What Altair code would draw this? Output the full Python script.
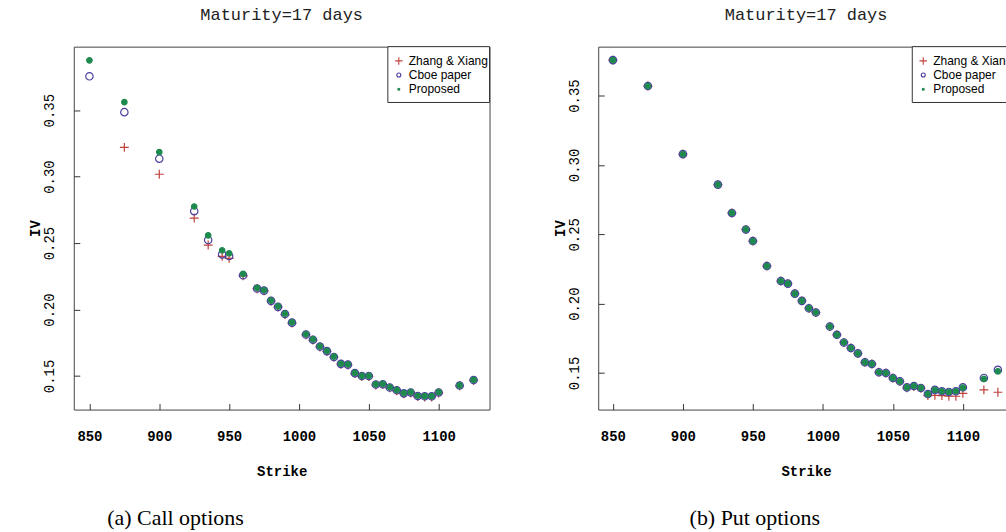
import altair as alt
import pandas as pd

MONO = "Liberation Mono"
SANS = "Liberation Sans"
SERIF = "Liberation Serif"

SERIES = ["Zhang & Xiang", "Cboe paper", "Proposed"]
STROKES = ["#c0413a", "#4a3f9f", "#1f8a4f"]
FILLS = ["transparent", "transparent", "#1f8a4f"]
PLUS = "M-1,0L1,0M0,-1L0,1"
SHAPES = [PLUS, "circle", "circle"]
SIZES = [80, 30, 12]
LEGEND_SIZES = [56, 16, 4]

strikes = [850, 875, 900, 925, 935, 945, 950, 960, 970, 975, 980, 985, 990, 995,
           1005, 1010, 1015, 1020, 1025, 1030, 1035, 1040, 1045, 1050, 1055, 1060,
           1065, 1070, 1075, 1080, 1085, 1090, 1095, 1100, 1115, 1125]

# (a) Call options
call_zhang = [None, 0.322, 0.3018, 0.2688, 0.2485, 0.2400, 0.2385, 0.2253, 0.2155, 0.2140,
              0.2062, 0.2018, 0.1962, 0.1898, 0.1810, 0.1770, 0.1718, 0.1684, 0.1640, 0.1588,
              0.1582, 0.1518, 0.1496, 0.1496, 0.1432, 0.1435, 0.1410, 0.1388, 0.1366, 0.1372,
              0.1345, 0.1342, 0.1342, 0.1372, 0.1426, 0.1466]
call_cboe = [0.3755, 0.3485, 0.3135, 0.2740, 0.2523, 0.2415, 0.2403, 0.2258, 0.2158, 0.2142,
             0.2065, 0.2020, 0.1966, 0.1901, 0.1812, 0.1773, 0.1721, 0.1687, 0.1643, 0.1591,
             0.1585, 0.1521, 0.1500, 0.1500, 0.1436, 0.1438, 0.1413, 0.1392, 0.1369, 0.1376,
             0.1349, 0.1347, 0.1347, 0.1376, 0.1428, 0.1469]
call_proposed = [0.3875, 0.3560, 0.3185, 0.2775, 0.2558, 0.2445, 0.2423, 0.2268, 0.2162, 0.2145,
                 0.2067, 0.2023, 0.1968, 0.1903, 0.1814, 0.1775, 0.1723, 0.1688, 0.1645, 0.1592,
                 0.1587, 0.1523, 0.1501, 0.1501, 0.1437, 0.1440, 0.1415, 0.1394, 0.1371, 0.1378,
                 0.1351, 0.1348, 0.1348, 0.1378, 0.1429, 0.1470]

# (b) Put options
put_zhang = [0.3756, 0.3569, 0.3078, 0.2858, 0.2654, 0.2535, 0.2451, 0.2271, 0.2163, 0.2144,
             0.2072, 0.2020, 0.1967, 0.1936, 0.1835, 0.1775, 0.1720, 0.1680, 0.1641, 0.1577,
             0.1565, 0.1505, 0.1500, 0.1464, 0.1438, 0.1393, 0.1402, 0.1389, 0.1337, 0.1339,
             0.1337, 0.1332, 0.1332, 0.1353, 0.1378, 0.1361]
put_cboe = [0.3756, 0.3569, 0.3078, 0.2858, 0.2654, 0.2535, 0.2451, 0.2271, 0.2163, 0.2144,
            0.2072, 0.2020, 0.1967, 0.1936, 0.1835, 0.1775, 0.1720, 0.1680, 0.1641, 0.1577,
            0.1565, 0.1505, 0.1500, 0.1464, 0.1440, 0.1396, 0.1406, 0.1392, 0.1348, 0.1378,
            0.1368, 0.1363, 0.1368, 0.1397, 0.1464, 0.1522]
put_proposed = [0.3756, 0.3569, 0.3078, 0.2858, 0.2654, 0.2535, 0.2451, 0.2271, 0.2163, 0.2144,
                0.2072, 0.2020, 0.1967, 0.1936, 0.1835, 0.1775, 0.1720, 0.1680, 0.1641, 0.1577,
                0.1565, 0.1505, 0.1500, 0.1464, 0.1440, 0.1396, 0.1406, 0.1392, 0.1348, 0.1378,
                0.1368, 0.1363, 0.1368, 0.1394, 0.1457, 0.1512]

x_ticks = [850, 900, 950, 1000, 1050, 1100]
y_ticks = [0.15, 0.20, 0.25, 0.30, 0.35]

TITLE = "Maturity=17 days"
W, H = 417, 364


def long_df(zhang, cboe, prop):
    rows = []
    for name, vals in zip(SERIES, [zhang, cboe, prop]):
        for k, v in zip(strikes, vals):
            if v is not None:
                rows.append({"strike": k, "iv": v, "series": name})
    return pd.DataFrame(rows)


def legend_layers(width):
    one = pd.DataFrame({"a": [0]})
    left = width - 102
    parts = [alt.Chart(one).mark_rect(fill="white", stroke="#333", strokeWidth=1).encode(
        x=alt.value(left), x2=alt.value(width), y=alt.value(0), y2=alt.value(56))]
    for i, name in enumerate(SERIES):
        yy = 14.3 + 14.2 * i
        parts.append(alt.Chart(one).mark_point(
            shape=SHAPES[i], stroke=STROKES[i], fill=FILLS[i], size=LEGEND_SIZES[i],
            strokeWidth=1.1, opacity=1, filled=(i == 2)
        ).encode(x=alt.value(left + 11), y=alt.value(yy)))
        parts.append(alt.Chart(pd.DataFrame({"t": [name]})).mark_text(
            font=SANS, fontSize=12, color="black", align="left", baseline="middle"
        ).encode(x=alt.value(left + 21), y=alt.value(yy), text="t:N"))
    return parts


def panel(df, xdom, ydom, caption, cap_x):
    x_axis = alt.Axis(values=x_ticks, format="d", title="Strike", grid=False, domain=False,
                      offset=-6, tickSize=6, tickColor="#333", labelPadding=20,
                      labelFont=MONO, labelFontSize=14, labelFontWeight="bold",
                      labelColor="black", labelFlush=False, titleFont=MONO,
                      titleFontSize=14, titleFontWeight="bold", titleColor="black",
                      titlePadding=21)
    y_axis = alt.Axis(values=y_ticks, format=".2f", title="IV", grid=False, domain=False,
                      offset=-6, tickSize=6, tickColor="#333", labelAngle=270,
                      labelAlign="center", labelBaseline="bottom", labelPadding=17,
                      labelFont=MONO, labelFontSize=14, labelColor="black",
                      titleFont=MONO, titleFontSize=14, titleFontWeight="bold",
                      titleColor="black", titlePadding=0)
    pts = alt.Chart(df).mark_point(filled=True, strokeWidth=1.2, opacity=1).encode(
        x=alt.X("strike:Q", scale=alt.Scale(domain=xdom, nice=False, zero=False), axis=x_axis),
        y=alt.Y("iv:Q", scale=alt.Scale(domain=ydom, nice=False, zero=False), axis=y_axis),
        shape=alt.Shape("series:N", scale=alt.Scale(domain=SERIES, range=SHAPES), legend=None),
        stroke=alt.Stroke("series:N", scale=alt.Scale(domain=SERIES, range=STROKES), legend=None),
        fill=alt.Fill("series:N", scale=alt.Scale(domain=SERIES, range=FILLS), legend=None),
        size=alt.Size("series:N", scale=alt.Scale(domain=SERIES, range=SIZES), legend=None),
    )
    cap = alt.Chart(pd.DataFrame({"t": [caption]})).mark_text(
        font=SERIF, fontSize=22, color="black", align="center", baseline="middle"
    ).encode(x=alt.value(cap_x), y=alt.value(H + 109), text="t:N")
    return alt.layer(pts, *legend_layers(W), cap).properties(
        width=W, height=H,
        title=alt.TitleParams(TITLE, font=MONO, fontSize=17, fontWeight="normal",
                              color="#222", frame="group", anchor="middle", offset=22),
    )


left = panel(long_df(call_zhang, call_cboe, call_proposed), [838.8, 1136.4], [0.1247, 0.3978],
             "(a) Call options", 102)
right = panel(long_df(put_zhang, put_cboe, put_proposed), [839.5, 1136.5], [0.1236, 0.3853],
              "(b) Put options", 157)

chart = alt.hconcat(left, right, spacing=62).properties(
    padding={"left": 28, "top": 5, "right": -9, "bottom": 0},
    background="white",
).configure_view(stroke="#444", strokeWidth=1).resolve_scale(
    shape="independent", stroke="independent", fill="independent", size="independent"
)

chart.save("out.html", embed_options={"renderer": "svg", "actions": False})
